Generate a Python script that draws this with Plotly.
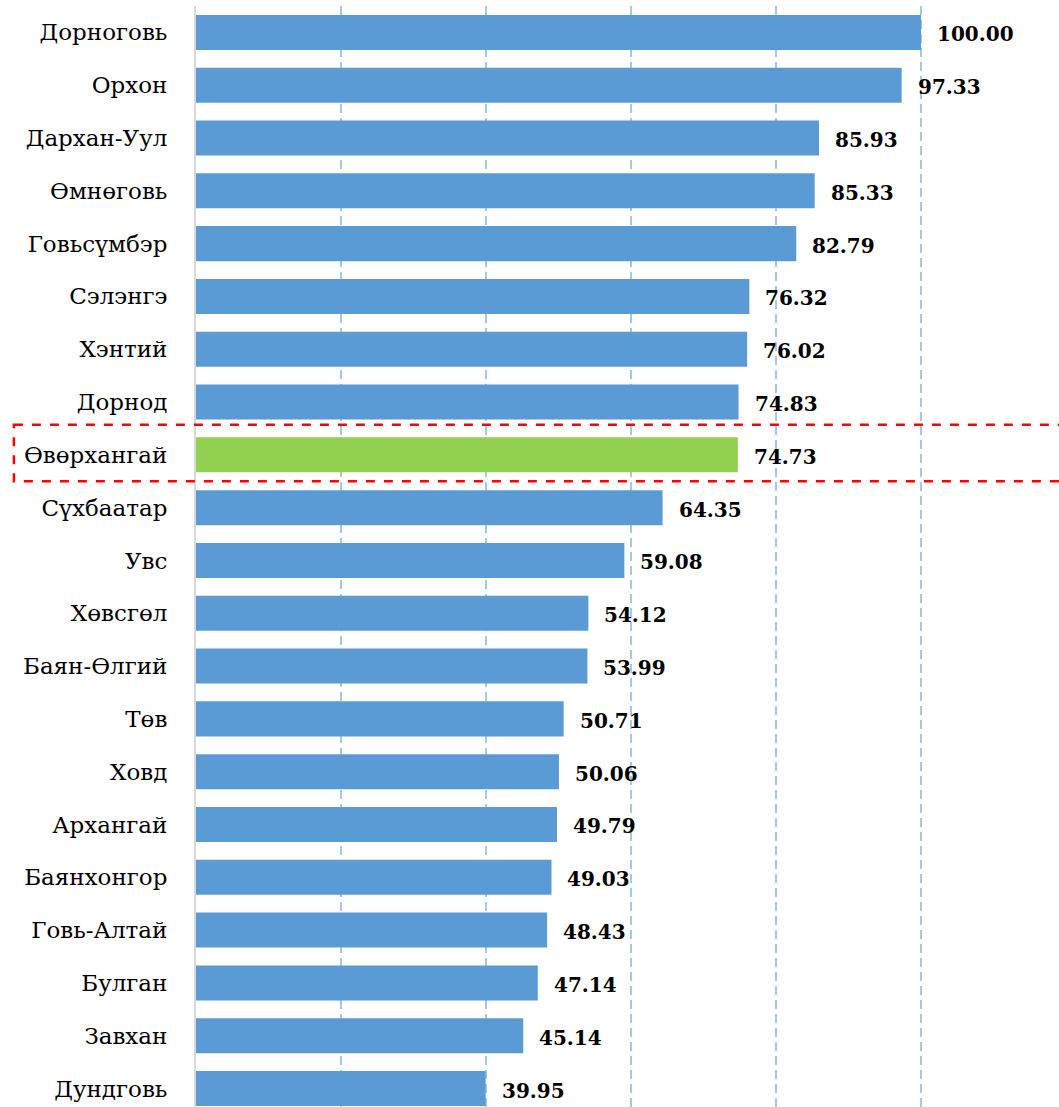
import plotly.graph_objects as go

provinces = ["Дорноговь", "Орхон", "Дархан-Уул", "Өмнөговь", "Говьсүмбэр", "Сэлэнгэ",
             "Хэнтий", "Дорнод", "Өвөрхангай", "Сүхбаатар", "Увс", "Хөвсгөл",
             "Баян-Өлгий", "Төв", "Ховд", "Архангай", "Баянхонгор", "Говь-Алтай",
             "Булган", "Завхан", "Дундговь"]
scores = [100.00, 97.33, 85.93, 85.33, 82.79, 76.32, 76.02, 74.83, 74.73, 64.35, 59.08,
          54.12, 53.99, 50.71, 50.06, 49.79, 49.03, 48.43, 47.14, 45.14, 39.95]
highlight = "Өвөрхангай"

colors = ["#92D050" if p == highlight else "#5B9BD5" for p in provinces]

fig = go.Figure(go.Bar(
    x=scores, y=provinces, orientation="h",
    marker=dict(color=colors, line=dict(width=0)),
    hoverinfo="skip",
))

font_family = "DejaVu Serif"
for p, v in zip(provinces, scores):
    fig.add_annotation(x=v, y=p, text=f"<b>{v:.2f}</b>", showarrow=False,
                       xanchor="left", xshift=14, yshift=-2,
                       font=dict(family=font_family, size=20, color="#000000"))

hi = provinces.index(highlight)
fig.add_shape(type="rect", xref="paper", yref="y",
              x0=-0.211, x1=1.05, y0=hi - 0.57, y1=hi + 0.5,
              line=dict(color="#FF0000", width=2.5, dash="dash"),
              fillcolor="rgba(0,0,0,0)", layer="above")

fig.update_layout(
    width=1059, height=1107,
    margin=dict(l=196, r=0, t=6, b=0, pad=0),
    plot_bgcolor="white", paper_bgcolor="white",
    bargap=0.337, showlegend=False,
    font=dict(family=font_family, size=20, color="#000000"),
    xaxis=dict(range=[0, 119.03], showticklabels=False, showgrid=True, dtick=20,
               gridcolor="#A6C8E8", gridwidth=1.5, griddash="9px,5px",
               zeroline=False, showline=False, ticks="", automargin=False),
    yaxis=dict(range=[20.35, -0.5], showline=True, linecolor="#D9D9D9", linewidth=2,
               ticks="", ticklabelstandoff=22, showgrid=False, automargin=False,
               tickfont=dict(family=font_family, size=23, color="#000000")),
)

fig.write_html("out.html", config={"displayModeBar": False},
               post_script="document.body.style.margin='0';")
